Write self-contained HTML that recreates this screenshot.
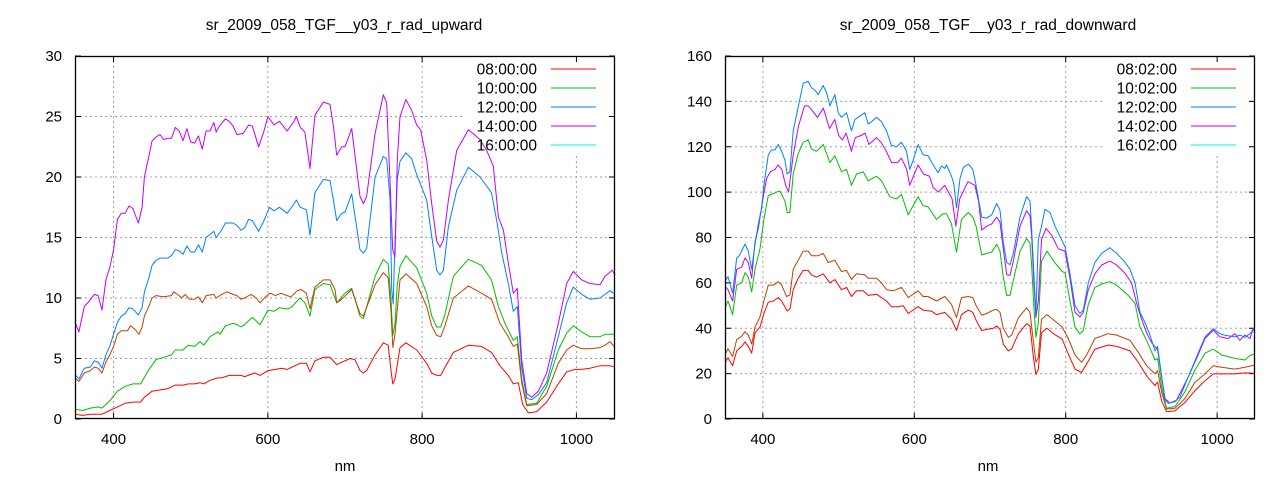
<!DOCTYPE html>
<html><head><meta charset="utf-8">
<style>
html,body{margin:0;padding:0;background:#fff;}
svg{display:block;font-family:"Liberation Sans",Arial,sans-serif;}
</style></head>
<body>
<svg id="s" width="1280" height="480" viewBox="0 0 1280 480" xmlns="http://www.w3.org/2000/svg">
<rect width="1280" height="480" fill="#fff"/>
<text x="344" y="30" font-size="15.5" text-anchor="middle" fill="#000">sr_2009_058_TGF__y03_r_rad_upward</text>
<text x="988" y="30" font-size="15.5" text-anchor="middle" fill="#000">sr_2009_058_TGF__y03_r_rad_downward</text>
<text x="345" y="471" font-size="15" text-anchor="middle" fill="#000">nm</text>
<text x="988" y="471" font-size="15" text-anchor="middle" fill="#000">nm</text>
</svg>
<script>
var NS="http://www.w3.org/2000/svg",S=document.getElementById('s');
function el(t,a,txt){var e=document.createElementNS(NS,t);for(var k in a)e.setAttribute(k,a[k]);if(txt!=null)e.textContent=txt;S.appendChild(e);return e;}
function chart(c){
 var X=function(n){return c.x0+(n-350)*(c.x1-c.x0)/700;};
 var Y=function(v){return c.y1-v*(c.y1-c.y0)/c.ymax;};
 for(var v=c.ystep;v<c.ymax;v+=c.ystep){el('line',{x1:c.x0,x2:c.x1,y1:Y(v),y2:Y(v),stroke:'#a0a0a0','stroke-dasharray':'2,3','stroke-width':1});}
 [400,600,800,1000].forEach(function(n){el('line',{x1:X(n),x2:X(n),y1:c.y0,y2:c.y1,stroke:'#a0a0a0','stroke-dasharray':'2,3','stroke-width':1});});
 el('rect',{x:c.lx,y:c.y0+1,width:c.x1-c.lx-8,height:98,fill:'#fff'});
 for(var v=0;v<=c.ymax;v+=c.ystep){var y=Y(v);el('line',{x1:c.x0,x2:c.x0+6,y1:y,y2:y,stroke:'#000'});el('line',{x1:c.x1,x2:c.x1-6,y1:y,y2:y,stroke:'#000'});
  el('text',{x:c.x0-13,y:y+5,'font-size':15,'text-anchor':'end',fill:'#000'},String(v));}
 [400,600,800,1000].forEach(function(n){var x=X(n);el('line',{x1:x,x2:x,y1:c.y1,y2:c.y1-6,stroke:'#000'});el('line',{x1:x,x2:x,y1:c.y0,y2:c.y0+6,stroke:'#000'});
  el('text',{x:x,y:444,'font-size':15,'text-anchor':'middle',fill:'#000'},String(n));});
 c.series.forEach(function(s){var p=[];for(var i=0;i<s.d.length;i+=2)p.push(X(s.d[i]).toFixed(1)+','+Y(s.d[i+1]).toFixed(1));
  el('polyline',{points:p.join(' '),fill:'none',stroke:s.c,'stroke-width':1,'stroke-linejoin':'round'});});
 el('rect',{x:c.x0+0.5,y:c.y0+0.5,width:c.x1-c.x0-1,height:c.y1-c.y0-1,fill:'none',stroke:'#000','stroke-width':1.3});
 var cols=['#ff0000','#00c000','#0080ff','#c000ff','#00eeee'];
 c.leg.forEach(function(t,i){var y=69+i*19;el('text',{x:c.tx,y:y+5.5,'font-size':15.5,'text-anchor':'end',fill:'#000'},t);
  el('line',{x1:c.tx+14,x2:c.tx+59,y1:y,y2:y,stroke:cols[i],'stroke-width':1});});
}
var Lred=[350,0.4,360,0.3,370,0.4,385,0.4,395,0.7,405,1.0,415,1.3,425,1.4,435,1.4,440,1.8,450,2.3,460,2.4,470,2.5,480,2.8,490,2.8,497,2.9,505,2.9,512,3.0,517,2.9,525,3.2,535,3.4,540,3.4,550,3.6,565,3.6,570,3.5,583,3.8,590,3.6,600,4.0,610,4.1,618,4.2,625,4.1,635,4.4,641.7,4.6,650,4.6,654.6,3.9,661,4.8,672,5.1,680.6,5.1,689.2,4.5,706.5,5.0,712.9,4.9,719.4,4.0,723.8,3.8,728,4.0,739,5.3,749.7,6.3,756,6.1,759.6,4.0,762,2.9,764.8,3.3,771.3,5.9,779,6.3,793,5.7,805.9,4.6,812.4,3.8,818.9,3.6,824,3.6,829,4.2,840.5,5.5,859.9,6.1,877,6.0,889.9,5.5,900.9,4.4,911.7,3.6,918.2,2.9,924.7,3.0,930.4,1.2,937.7,0.5,948.5,0.6,961.5,1.4,976.5,2.9,987.4,3.9,998.2,4.1,1006.8,4.1,1017.6,4.2,1030.6,4.4,1043.5,4.4,1050,4.3];
var Lgreen=[350,0.8,360,0.7,370,0.9,380,1.0,385,0.9,395,1.5,405,2.3,415,2.7,425,2.9,435,2.9,445,4.0,455,4.9,465,5.1,475,5.3,480,5.7,490,5.7,497,6.1,505,6.0,512,6.4,517,6.1,525,6.8,535,7.2,538,7.0,545,7.7,555,7.9,560,7.8,565,7.6,570,7.8,580,8.4,590,7.8,600,9.0,608,8.9,615,9.2,625,9.1,630,9.2,641.7,10.0,648,9.6,654.6,8.5,661,10.7,672,11.2,680.6,11.1,684,10.5,689.2,9.6,700,10.4,708.7,10.8,719.4,8.5,723.8,8.3,739,11.8,749.7,13.2,756,12.8,759.6,9.9,762,6.9,764.8,7.9,767.8,11.1,771.3,12.6,779,13.5,793,12.5,805.9,10.4,812.4,8.5,818.9,7.6,824,7.6,829,8.5,840.5,11.8,859.9,13.2,877,12.7,889.9,11.5,898.8,9.3,907.4,7.9,918.2,6.5,923.4,6.8,929,3.3,935.5,1.2,948.5,1.3,961.5,2.7,976.5,5.7,987.4,7.1,996,7.7,1006.8,7.2,1017.6,6.8,1030.6,6.8,1037,7.0,1050,7.0];
var Lbrown=[350,3.4,355,3.1,362,3.8,370,4.0,375,4.3,380,4.2,385,3.8,390,4.7,395,5.3,400,6.0,405,7.0,410,7.3,418,7.3,422,7.7,428,7.4,433,7.0,437,7.6,440,8.5,445,9.2,450,10.0,455,10.2,465,10.1,475,10.2,478,10.5,485,10.2,488,10.0,493,10.3,498,9.9,505,9.9,510,10.1,515,9.6,520,10.2,530,10.3,533,10.0,540,10.3,547,10.5,555,10.3,560,10.2,565,9.9,570,10.0,578,10.3,585,10.0,590,9.6,597,10.1,603,10.4,610,10.2,617,10.4,625,10.2,630,10.1,638,10.6,643,10.7,650,10.4,654.6,9.1,661,10.9,672,11.5,680.6,11.5,687,10.7,689.2,9.6,695.7,9.9,708.7,10.7,719.4,8.7,723.8,8.5,739,11.1,749.7,12.1,756,11.7,759.6,8.9,762,5.9,764.8,7.0,771.3,11.5,779,12.0,793,11.2,805.9,9.3,812.4,7.7,818.9,6.9,824,6.8,829,7.6,840.5,10.0,859.9,11.0,877,10.4,889.9,9.9,900.9,7.9,911.7,6.8,918.2,6.0,923.4,6.2,929,3.0,935.5,1.1,948.5,1.2,961.5,2.1,976.5,4.6,987.4,5.7,996,6.1,1006.8,5.8,1017.6,5.8,1030.6,5.9,1037,6.1,1043.5,6.4,1050,5.9];
var Lblue=[350,3.7,355,3.3,362,4.2,370,4.3,375,4.8,380,4.7,385,4.2,390,5.3,395,6,400,7.0,405,8.0,410,8.5,415,8.7,420,9.2,425,9.1,432,8.6,437,9.2,440,10.5,445,11.5,450,12.7,455,13.1,460,13.3,470,13.3,475,13.5,480,14.0,485,13.9,490,13.6,495,14.3,500,13.8,505,13.8,510,14.4,515,13.8,520,15.0,530,15.5,533,15.0,540,15.6,545,16.2,555,16.2,560,16.0,565,15.6,570,15.8,575,16.5,580,16.4,588,15.5,595,16.4,602,17.5,608,17.2,615,17.5,625,17.0,632,17.6,637,18.1,642,17.5,650,17.3,654.6,15.2,661,18.7,672,19.8,680.6,19.7,684.9,18.1,689.2,16.4,695.7,17.0,700,17.1,708.7,18.6,719.4,14.0,723.8,13.7,728,14.1,739,20.0,749.7,21.7,754,21.5,758.4,18.1,760.5,10.7,762.5,9.5,764,13.0,767.8,19.8,771.3,21.3,779,22.0,786.5,21.5,793,20.2,805.9,18.1,812.4,15.1,818.9,12.3,823.2,11.9,827.5,12.3,834,15.9,844.8,18.9,859.9,20.8,875,20.0,889.9,18.7,896.6,16.4,903.2,13.7,911.7,11.2,918.2,8.9,923.4,9.3,929,4.3,935.5,1.7,942,1.6,950.6,2.0,961.5,3.0,976.5,6.8,987.4,9.6,996,10.9,1006.8,10.3,1017.6,9.9,1030.6,10.0,1037,10.3,1043.5,10.6,1050,10.3];
var Lpurple=[350,8.0,355,7.2,362,9.3,368,9.7,375,10.3,380,10.2,385,9.0,390,11.5,395,12.5,400,14,405,16.5,410,17,415,17,420,17.6,425,17.4,432,16.2,437,17.5,440,20,445,21.5,450,23,455,23.3,460,23.5,465,23.1,470,23.2,475,23.2,480,24.1,485,23.8,490,23.0,495,24,500,22.9,505,22.8,510,23.4,515,22.3,520,23.8,525,23.8,530,24.5,533,23.7,537,24.2,545,24.8,550,24.6,555,24.2,560,23.5,568,23.6,575,24.3,580,24.2,588,22.5,595,23.8,600,25.0,608,24.3,615,24.6,625,23.8,633,24.5,637,25.0,642,24.1,648,23.7,654.6,20.7,661,25.1,672,26.2,680.6,26.0,684.9,24.2,689.2,21.8,695.7,22.5,700,22.5,708.7,24.0,719.4,18.4,723.8,17.8,728,18.4,739,23.6,749.7,26.8,754,26.1,758.4,19.5,761.8,14.0,764.8,13.4,767.8,21.4,771.3,25.0,779,26.4,786.5,25.5,793,24.3,798,23.9,805.9,21.4,812.4,17.8,818.9,14.7,823.2,14.2,827.5,14.8,834,18.1,844.8,22.2,859.9,23.9,875,23.1,883.7,22.2,892.3,20.9,898.8,16.7,905.3,15.6,911.7,12.9,918.2,10.4,923.4,10.8,929,4.9,935.5,2.1,942,1.8,950.6,2.3,961.5,3.8,976.5,7.9,987.4,11.2,996,12.2,1006.8,11.5,1017.6,11.2,1030.6,11.1,1037,11.8,1046.5,12.3,1050,11.9];
var Rred=[351,25.5,354,27,360,23.5,365.4,30,372,32,376.4,34,380.8,32,385.2,29,389.6,38,396.2,40.5,401.4,46.5,407.2,51.5,413.8,52,420.4,53.5,424.8,52,432.2,47.6,435.7,48.5,440.1,57,446.7,62,453.3,65.5,459.9,65.5,464.3,63.5,470.9,62.5,479.7,64,488.5,60,495.1,61.5,503.9,57,510.5,58,517.1,54,523.7,56.5,532.5,56.5,539.1,54.5,550.1,55,563.3,52,569.9,49.5,578.7,49.5,585.3,50,591.9,46.5,605.1,49.5,611.7,48,622.7,47.5,629.3,46,640.3,47,649.1,44,655.7,39,662.3,46,671.4,48,677.3,47,681.7,43.5,689,39,695.6,39.5,704.4,40,708.8,41,713.2,39.5,717.6,33,724.2,30,728.6,31,737.4,37.5,748.4,42,752.8,41,757.2,27.6,760.6,19.6,763.8,21.8,768,38,775.3,40,784.2,37.5,795.2,35.2,803.4,28.7,812.2,22,821,20.5,827.6,24.2,838.6,30.8,856.2,32.6,867.2,32,884.9,30,895.9,25,906.8,19,917.9,14.7,921.4,16.2,926.7,8,933.3,3.2,944.3,3.6,957.5,7.3,970.7,12.5,983.9,16.9,994.9,19.9,1005.9,19.9,1023.5,19.9,1036.7,20.3,1050,20.2];
var Rbrown=[351,29,354,31,360,27.6,365.4,35,372,36.5,376.4,38.5,380.8,37,385.2,33,389.6,40.5,396.2,45,401.4,52,407.2,59,413.8,59,420.4,60.5,424.8,59,431.4,54,435.7,54.7,440.1,66,446.7,70,453.3,74,459.9,74,464.3,72,473.1,72,479.7,73,486.3,69,495.1,70,503.9,65,510.5,65.5,517.1,61.5,523.7,64,534.7,63.5,539.1,62,550.1,62,556.7,60,563.3,57,572.1,56.5,583.1,58,591.9,53.5,605.1,56.5,611.7,54,618.3,54,629.3,52,640.3,54,649.1,50.5,655.7,44.7,662.3,53.5,671.4,54,677.3,53.5,681.7,50,689,45.8,695.6,46.5,704.4,48,708.8,48.3,713.2,47,717.6,40,724.2,36,728.6,37,737.4,44.5,748.4,49,752.8,47,757.2,34.5,760.6,25,763.8,27,768,44,775.3,46,784.2,43.6,795.2,40.6,803.4,35.5,812.2,28.2,821,25,827.6,28.2,838.6,35.5,856.2,37.6,867.2,37,884.9,34.7,895.9,29.4,906.8,23.5,917.9,19.9,921.4,21.3,926.7,11.8,933.3,4.4,944.3,4.7,957.5,9.1,970.7,16.2,983.9,19.9,994.9,23.5,1005.9,22.8,1023.5,22,1036.7,22.8,1050,23.8];
var Rgreen=[351,50,354,52,360,46,365.4,59,372,60,376.4,64.5,380.8,62.5,385.2,56,389.6,66,396.2,75,401.4,88,407.2,98.5,411.6,99,418.2,100,422.6,100.5,429.2,96,432.2,91,435.7,91,440.1,108,446.7,117,453.3,122,459.9,123,464.3,119,470.9,118,479.7,121,488.5,113,495.1,116,503.9,109,510.5,110,517.1,103,523.7,108,532.5,109,539.1,105,550.1,107,556.7,105,567.7,98,576.5,97,583.1,99,591.9,90,605.1,98,611.7,94,618.3,93.5,629.3,88,638.1,90.5,642.5,90.5,649.1,86,655.7,73.5,662.3,88,671.4,91,677.3,89,681.7,85,689,72.3,695.6,73,702.2,73.5,708.8,77,713.2,74,717.6,62.5,722,54.5,726.4,54.5,730.8,61,739.6,74,748.4,79.5,752.8,77.5,755,68,758,49,760.6,36,763.8,42,768,69.5,775.3,74,784.2,69.5,795.2,65,799,64.5,805.6,52,812.2,40.5,818.8,37.5,823.2,39,829.8,50.5,838.6,58,847.4,59.5,858.4,60.5,867.2,59,882.6,54.5,891.5,51,898.1,40.5,906.8,34.7,917.9,26,921.4,26.7,926.7,14.3,933.3,4.7,944.3,5.5,957.5,12,970.7,21.6,983.9,29,994.9,30.8,1005.9,28.2,1023.5,26.7,1036.7,26,1043.4,28,1050,28.8];
var Rpurple=[351,58,354,57,360,52,365.4,66,372,67,376.4,71,380.8,69,385.2,62,389.6,78,394,84,400,97,405,106,410,109,416,110,420,112,425,110,430,103,434,100,440,116,447,129,455,138,460,138,465,136,472,133,480,137,488,128,495,132,500,125,505,123,510,126,517,118,522,124,530,125,535,126,540,121,550,124,556,122,563,118,570,113,578,113,583,115,590,110,594,103,605,112,612,108,620,107,625,102,632,100,640,103,645,100,650,97,655,85,660,97,671,104.6,680,103,685,96,689,83.3,695.6,85,702.2,86,708.8,89,713.2,86.7,717.6,75,722,63.6,726.4,63.3,730.8,69.6,739.6,85,748.4,91.8,752.8,89.6,755,81,758,60,760.6,44.7,763.8,52,768,79,774,84,781.4,81,790.2,75,799,74,805.6,62,812.2,47,818.8,45,823.2,47,829.8,57,838.6,64,847.4,67.9,858.4,69.6,867.2,67.9,878.2,64.3,887,60,893.6,51,900.2,44,906.8,38,913.4,33.6,921.4,30.7,926.7,18.7,931.1,9,937.7,7,946.5,8.3,961.9,18.6,972.9,26.7,983.9,35.5,994.9,39.2,1003.7,36.2,1014.7,35.5,1023.5,37.6,1030.1,34.7,1036.7,37,1043.4,35.5,1047.8,40,1050,39];
var Rblue=[351,61.3,354,62.7,360,55.5,365.4,71,368.9,72,376.4,77.1,380.8,74,385.2,66,389.6,77,394,86,398.3,93,401.4,103,407.2,116.4,411.6,118.6,416,118.6,420.4,121,424.8,118,429.2,114,432.2,108,435.7,109,440.1,127,446.7,137.5,453.3,148,459.9,148.8,464.3,146,468.7,145,473.1,143,479.7,147,484.1,144,488.5,138,495.1,143,499.5,135,503.9,133,510.5,135,517.1,127,521.5,132,525.9,133,530.3,134,534.7,135,539.1,130,543.5,131,550.1,133,556.7,131,563.3,127,569.9,120.6,576.5,120,583.1,122,589.7,118,594.1,110,598.5,114,605.1,121,611.7,116.5,618.3,116,624.9,112,631.5,108.6,635.9,111.5,640.3,110.5,642.5,112,649.1,107,652,104,655.7,93,660.4,106,665,111,671.4,112.4,677.3,110,681.7,103,689,89,695.6,88.5,702.2,90,708.8,95,713.2,92,717.6,78,722,69,726.4,68,730.8,73,739.6,89,748.4,98,752.8,96,755,84,758,64,760.6,46,763.8,79,768,85,772.6,92.4,779.2,91,785.8,85,794.6,79,799,76,805.6,64,812.2,50,818.8,46.5,823.2,48,829.8,60,838.6,69,847.4,73,858.4,75.5,867.2,73,876,70,884.9,66,891.5,60,898.1,47,904.7,42.5,911.3,37,917.9,30,921.4,32,926.7,18.7,931.1,8.5,935.5,6.9,944.3,7.6,950.9,9.8,961.9,18.6,972.9,27.4,983.9,36.2,994.9,39.8,1003.7,37.6,1010.3,36.9,1023.5,36.2,1030.1,37,1036.7,36,1043.4,37.6,1047.8,39.5,1050,38];
chart({x0:75,x1:615,y0:56,y1:419,ymax:30,ystep:5,lx:462,tx:537,
 leg:['08:00:00','10:00:00','12:00:00','14:00:00','16:00:00'],
 series:[{d:Lred,c:'#ff0000'},{d:Lgreen,c:'#00c000'},{d:Lbrown,c:'#c04000'},{d:Lblue,c:'#0080ff'},{d:Lpurple,c:'#c000ff'}]});
chart({x0:725,x1:1255,y0:56,y1:419,ymax:160,ystep:20,lx:1103,tx:1177,
 leg:['08:02:00','10:02:00','12:02:00','14:02:00','16:02:00'],
 series:[{d:Rred,c:'#ff0000'},{d:Rbrown,c:'#c04000'},{d:Rgreen,c:'#00c000'},{d:Rpurple,c:'#c000ff'},{d:Rblue,c:'#0080ff'}]});
</script>
</body></html>
